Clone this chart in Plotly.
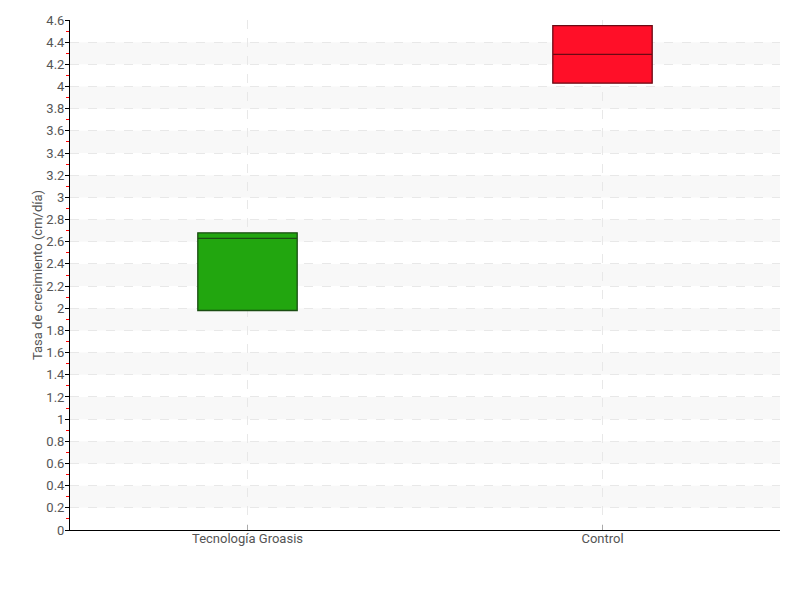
import plotly.graph_objects as go

categories = ["Tecnología Groasis", "Control"]
q1_vals = [1.98, 4.03]
median_vals = [2.63, 4.29]
q3_vals = [2.68, 4.55]
fill_colors = ["#22a60f", "#ff0f28"]
line_colors = ["#1a4d12", "#6b0a14"]
y_title = "Tasa de crecimiento (cm/día)"
y_tick_vals = [round(i * 0.2, 1) for i in range(24)]
y_tick_text = [("%g" % v) for v in y_tick_vals]

FONT = "Roboto, sans-serif"
FS = 13

fig = go.Figure()
for i, cat in enumerate(categories):
    fig.add_trace(go.Box(
        x=[cat],
        q1=[q1_vals[i]],
        median=[median_vals[i]],
        q3=[q3_vals[i]],
        lowerfence=[q1_vals[i]],
        upperfence=[q3_vals[i]],
        fillcolor=fill_colors[i],
        line=dict(color=line_colors[i], width=1.3),
        width=0.28,
        name=cat,
        showlegend=False,
        hoverinfo="y",
    ))

# alternating bands
shapes = []
for k in range(1, len(y_tick_vals) - 1, 2):
    shapes.append(dict(type="rect", xref="paper", yref="y", x0=0, x1=1,
                       y0=y_tick_vals[k], y1=y_tick_vals[k + 1],
                       fillcolor="#f8f8f8", line=dict(width=0), layer="below"))

fig.update_layout(
    width=800, height=600,
    margin=dict(l=62, r=28, t=12, b=78, autoexpand=False),
    plot_bgcolor="white", paper_bgcolor="white",
    font=dict(family=FONT, size=FS, color="#555555"),
    shapes=shapes,
    xaxis=dict(
        type="category",
        categoryorder="array", categoryarray=categories,
        range=[-0.5, 1.5],
        automargin=False,
        showline=True, linecolor="black", linewidth=1,
        showgrid=True, gridcolor="#e8e8e8", griddash="dash", gridwidth=1,
        ticks="inside", ticklen=5, tickcolor="#aaaaaa",
        ticklabelstandoff=-4,
        tickfont=dict(family=FONT, size=FS, color="#555555"),
        zeroline=False,
    ),
    yaxis=dict(
        range=[0, 4.6],
        automargin=False,
        tickvals=y_tick_vals, ticktext=y_tick_text,
        showline=True, linecolor="black", linewidth=1,
        showgrid=True, gridcolor="#e8e8e8", griddash="dash", gridwidth=1,
        ticks="outside", ticklen=4, tickcolor="black",
        ticklabelstandoff=-2,
        minor=dict(ticks="outside", ticklen=3, tickcolor="red",
                   tick0=0.1, dtick=0.2, showgrid=False),
        tickfont=dict(family=FONT, size=FS, color="#555555"),
        title=dict(text=y_title, font=dict(family=FONT, size=FS, color="#555555"), standoff=0),
        zeroline=False,
    ),
)

fig.write_html("out.html")
